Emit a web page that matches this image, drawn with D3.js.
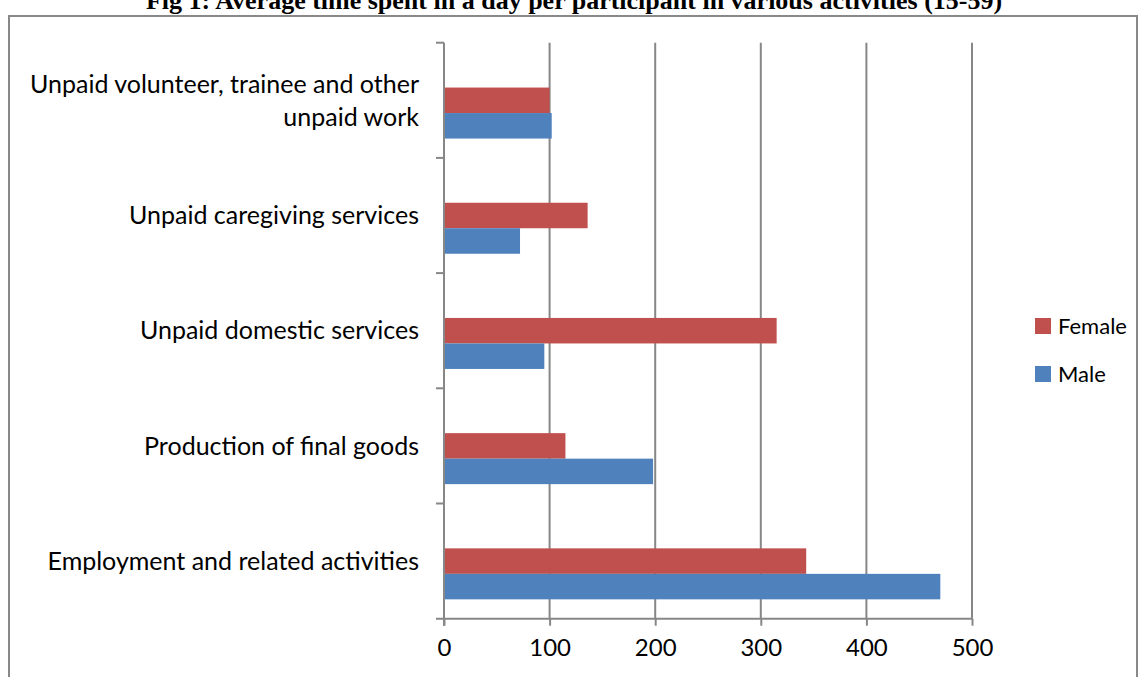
<!DOCTYPE html>
<html>
<head>
<meta charset="utf-8">
<script src="https://cdn.jsdelivr.net/npm/d3@7"></script>
<style>
  body { margin: 0; background: #fff; }
  text { font-family: Lato, "Open Sans", sans-serif; fill: #000; }
</style>
</head>
<body>
<script>
var w = 1147;
var h = 677;

// categories bottom to top, as in the sheet
var categories = [
    "Employment and related activities",
    "Production of final goods",
    "Unpaid domestic services",
    "Unpaid caregiving services",
    "Unpaid volunteer, trainee and other|unpaid work"
];
var series = ["Female", "Male"];
var male   = [470, 198, 95, 72, 102];
var female = [343, 115, 315, 136, 100];
var xTicks = [0, 100, 200, 300, 400, 500];
var colors = { Female: "#c0504d", Male: "#4f81bd" };

var plotLeft = 444, plotRight = 972, plotTop = 42.7, plotBottom = 618.7;

var svg = d3.select("body").append("svg")
    .attr("width", w)
    .attr("height", h);

// frame
svg.append("rect")
    .attr("x", 9).attr("y", 16)
    .attr("width", 1128).attr("height", 700)
    .attr("fill", "none")
    .attr("stroke", "#888")
    .attr("stroke-width", 2);

svg.append("text")
    .attr("x", 574)
    .attr("y", 9)
    .attr("text-anchor", "middle")
    .style("font-family", "'Liberation Serif', 'Times New Roman', serif")
    .style("font-weight", "bold")
    .style("font-size", "26px")
    .text("Fig 1: Average time spent in a day per participant in various activities (15-59)");

var xScale = d3.scaleLinear()
    .domain([0, 500])
    .range([plotLeft, plotRight]);

var yScale = d3.scaleBand()
    .domain(categories.slice().reverse())   // last category on top
    .range([plotTop, plotBottom]);

// third empty slot on top, like the sheet's blank series
var inner = d3.scaleBand()
    .domain(["", "Female", "Male"])
    .range([0, yScale.bandwidth()])
    .paddingOuter(0.759);

// gridlines
svg.selectAll(".grid")
    .data(xTicks.slice(1))
    .enter().append("line")
    .attr("x1", function(d) { return xScale(d); })
    .attr("x2", function(d) { return xScale(d); })
    .attr("y1", plotTop)
    .attr("y2", plotBottom)
    .attr("stroke", "#878787")
    .attr("stroke-width", 2);

var rows = categories.map(function(c, i) {
    return { cat: c, Female: female[i], Male: male[i] };
});

series.forEach(function(s) {
    svg.selectAll(".bar-" + s)
        .data(rows)
        .enter().append("rect")
        .attr("x", xScale(0))
        .attr("y", function(d) { return yScale(d.cat) + inner(s); })
        .attr("width", function(d) { return xScale(d[s]) - xScale(0); })
        .attr("height", inner.bandwidth())
        .attr("fill", colors[s]);
});

// x axis
var xAxis = d3.axisBottom(xScale)
    .tickValues(xTicks)
    .tickSize(7)
    .tickPadding(13);

var gx = svg.append("g")
    .attr("transform", "translate(0," + plotBottom + ")")
    .call(xAxis);
gx.select(".domain").attr("d", "M" + (plotLeft - 8) + ",0H" + plotRight);
gx.selectAll("line, path").attr("stroke", "#878787").attr("stroke-width", 2);
gx.selectAll("text").style("font-size", "24px").attr("fill", "#000");

// y axis: ticks sit on the band edges
var edges = yScale.domain().map(function(c) { return yScale(c); });
svg.append("line")
    .attr("x1", plotLeft).attr("x2", plotLeft)
    .attr("y1", plotTop).attr("y2", plotBottom + 7)
    .attr("stroke", "#878787").attr("stroke-width", 2);
svg.selectAll(".ytick")
    .data(edges)
    .enter().append("line")
    .attr("x1", plotLeft - 8).attr("x2", plotLeft)
    .attr("y1", function(d) { return d; })
    .attr("y2", function(d) { return d; })
    .attr("stroke", "#878787").attr("stroke-width", 2);

// category labels
svg.selectAll(".ylabel")
    .data(categories)
    .enter().append("text")
    .attr("text-anchor", "end")
    .style("font-size", "25px")
    .each(function(d) {
        var lines = d.split("|");
        var cy = yScale(d) + yScale.bandwidth() / 2;
        var t = d3.select(this);
        lines.forEach(function(l, j) {
            t.append("tspan")
                .attr("x", 419)
                .attr("y", cy + (j - (lines.length - 1) / 2) * 33)
                .attr("dy", "0.35em")
                .text(l);
        });
    });

// legend
var legend = svg.selectAll(".legend")
    .data(series)
    .enter().append("g")
    .attr("transform", function(d, i) { return "translate(1035," + (318 + i * 48) + ")"; });
legend.append("rect")
    .attr("width", 16).attr("height", 16)
    .attr("fill", function(d) { return colors[d]; });
legend.append("text")
    .attr("x", 23)
    .attr("y", 8)
    .attr("dy", "0.35em")
    .style("font-size", "22px")
    .text(function(d) { return d; });
</script>
</body>
</html>
